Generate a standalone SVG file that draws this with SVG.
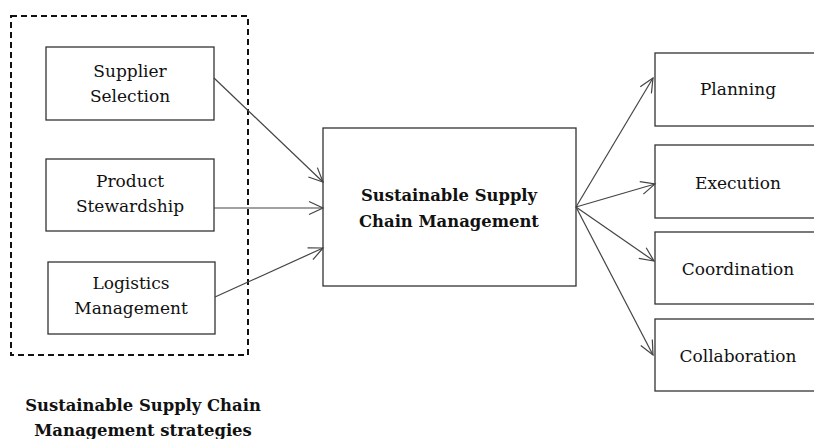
<svg xmlns="http://www.w3.org/2000/svg" width="814" height="439" viewBox="0 0 814 439">
<style>
.box{fill:#fff;stroke:#333;stroke-width:1.3}
.t{font-family:"DejaVu Serif","Liberation Serif",serif;font-size:17px;fill:#111;text-anchor:middle}
.b{font-family:"DejaVu Serif","Liberation Serif",serif;font-size:16.4px;font-weight:bold;fill:#111;text-anchor:middle}
.c{fill:none;stroke:#444;stroke-width:1.2}
</style>
<defs>
<marker id="ah" markerUnits="userSpaceOnUse" markerWidth="18" markerHeight="16" refX="16" refY="8" orient="auto">
<path d="M2,1.5 L16,8 L2,14.5" fill="none" stroke="#444" stroke-width="1.2"/>
</marker>
</defs>
<rect id="group" x="11" y="16" width="237" height="339" fill="none" stroke="#111" stroke-width="2" stroke-dasharray="6,4"/>
<g id="supplier"><rect class="box" x="46" y="47" width="168" height="73"/><text class="t" x="130" y="77">Supplier</text><text class="t" x="130" y="102">Selection</text></g>
<g id="product"><rect class="box" x="46" y="159" width="168" height="72"/><text class="t" x="130" y="187">Product</text><text class="t" x="130" y="212">Stewardship</text></g>
<g id="logistics"><rect class="box" x="48" y="262" width="167" height="72"/><text class="t" x="131" y="289">Logistics</text><text class="t" x="131" y="314">Management</text></g>
<g id="sscm"><rect class="box" x="323" y="128" width="253" height="158"/><text class="b" x="449" y="201">Sustainable Supply</text><text class="b" x="449" y="227">Chain Management</text></g>
<g id="planning"><rect class="box" x="655" y="53" width="170" height="73"/><text class="t" x="738" y="95">Planning</text></g>
<g id="execution"><rect class="box" x="655" y="145" width="170" height="73"/><text class="t" x="738" y="189">Execution</text></g>
<g id="coordination"><rect class="box" x="655" y="232" width="170" height="72"/><text class="t" x="738" y="275">Coordination</text></g>
<g id="collaboration"><rect class="box" x="655" y="319" width="170" height="72"/><text class="t" x="738" y="362">Collaboration</text></g>
<g id="caption"><text class="b" x="143" y="411">Sustainable Supply Chain</text><text class="b" x="143" y="436">Management strategies</text></g>
<g id="connectors">
<line class="c" x1="214" y1="78" x2="323" y2="182" marker-end="url(#ah)"/>
<line class="c" x1="214" y1="208" x2="323" y2="208" marker-end="url(#ah)"/>
<line class="c" x1="215" y1="297" x2="323" y2="248" marker-end="url(#ah)"/>
<line class="c" x1="576" y1="207" x2="653" y2="78" marker-end="url(#ah)"/>
<line class="c" x1="576" y1="207" x2="655" y2="184" marker-end="url(#ah)"/>
<line class="c" x1="576" y1="207" x2="654" y2="261" marker-end="url(#ah)"/>
<line class="c" x1="576" y1="207" x2="653" y2="355" marker-end="url(#ah)"/>
</g>
</svg>
